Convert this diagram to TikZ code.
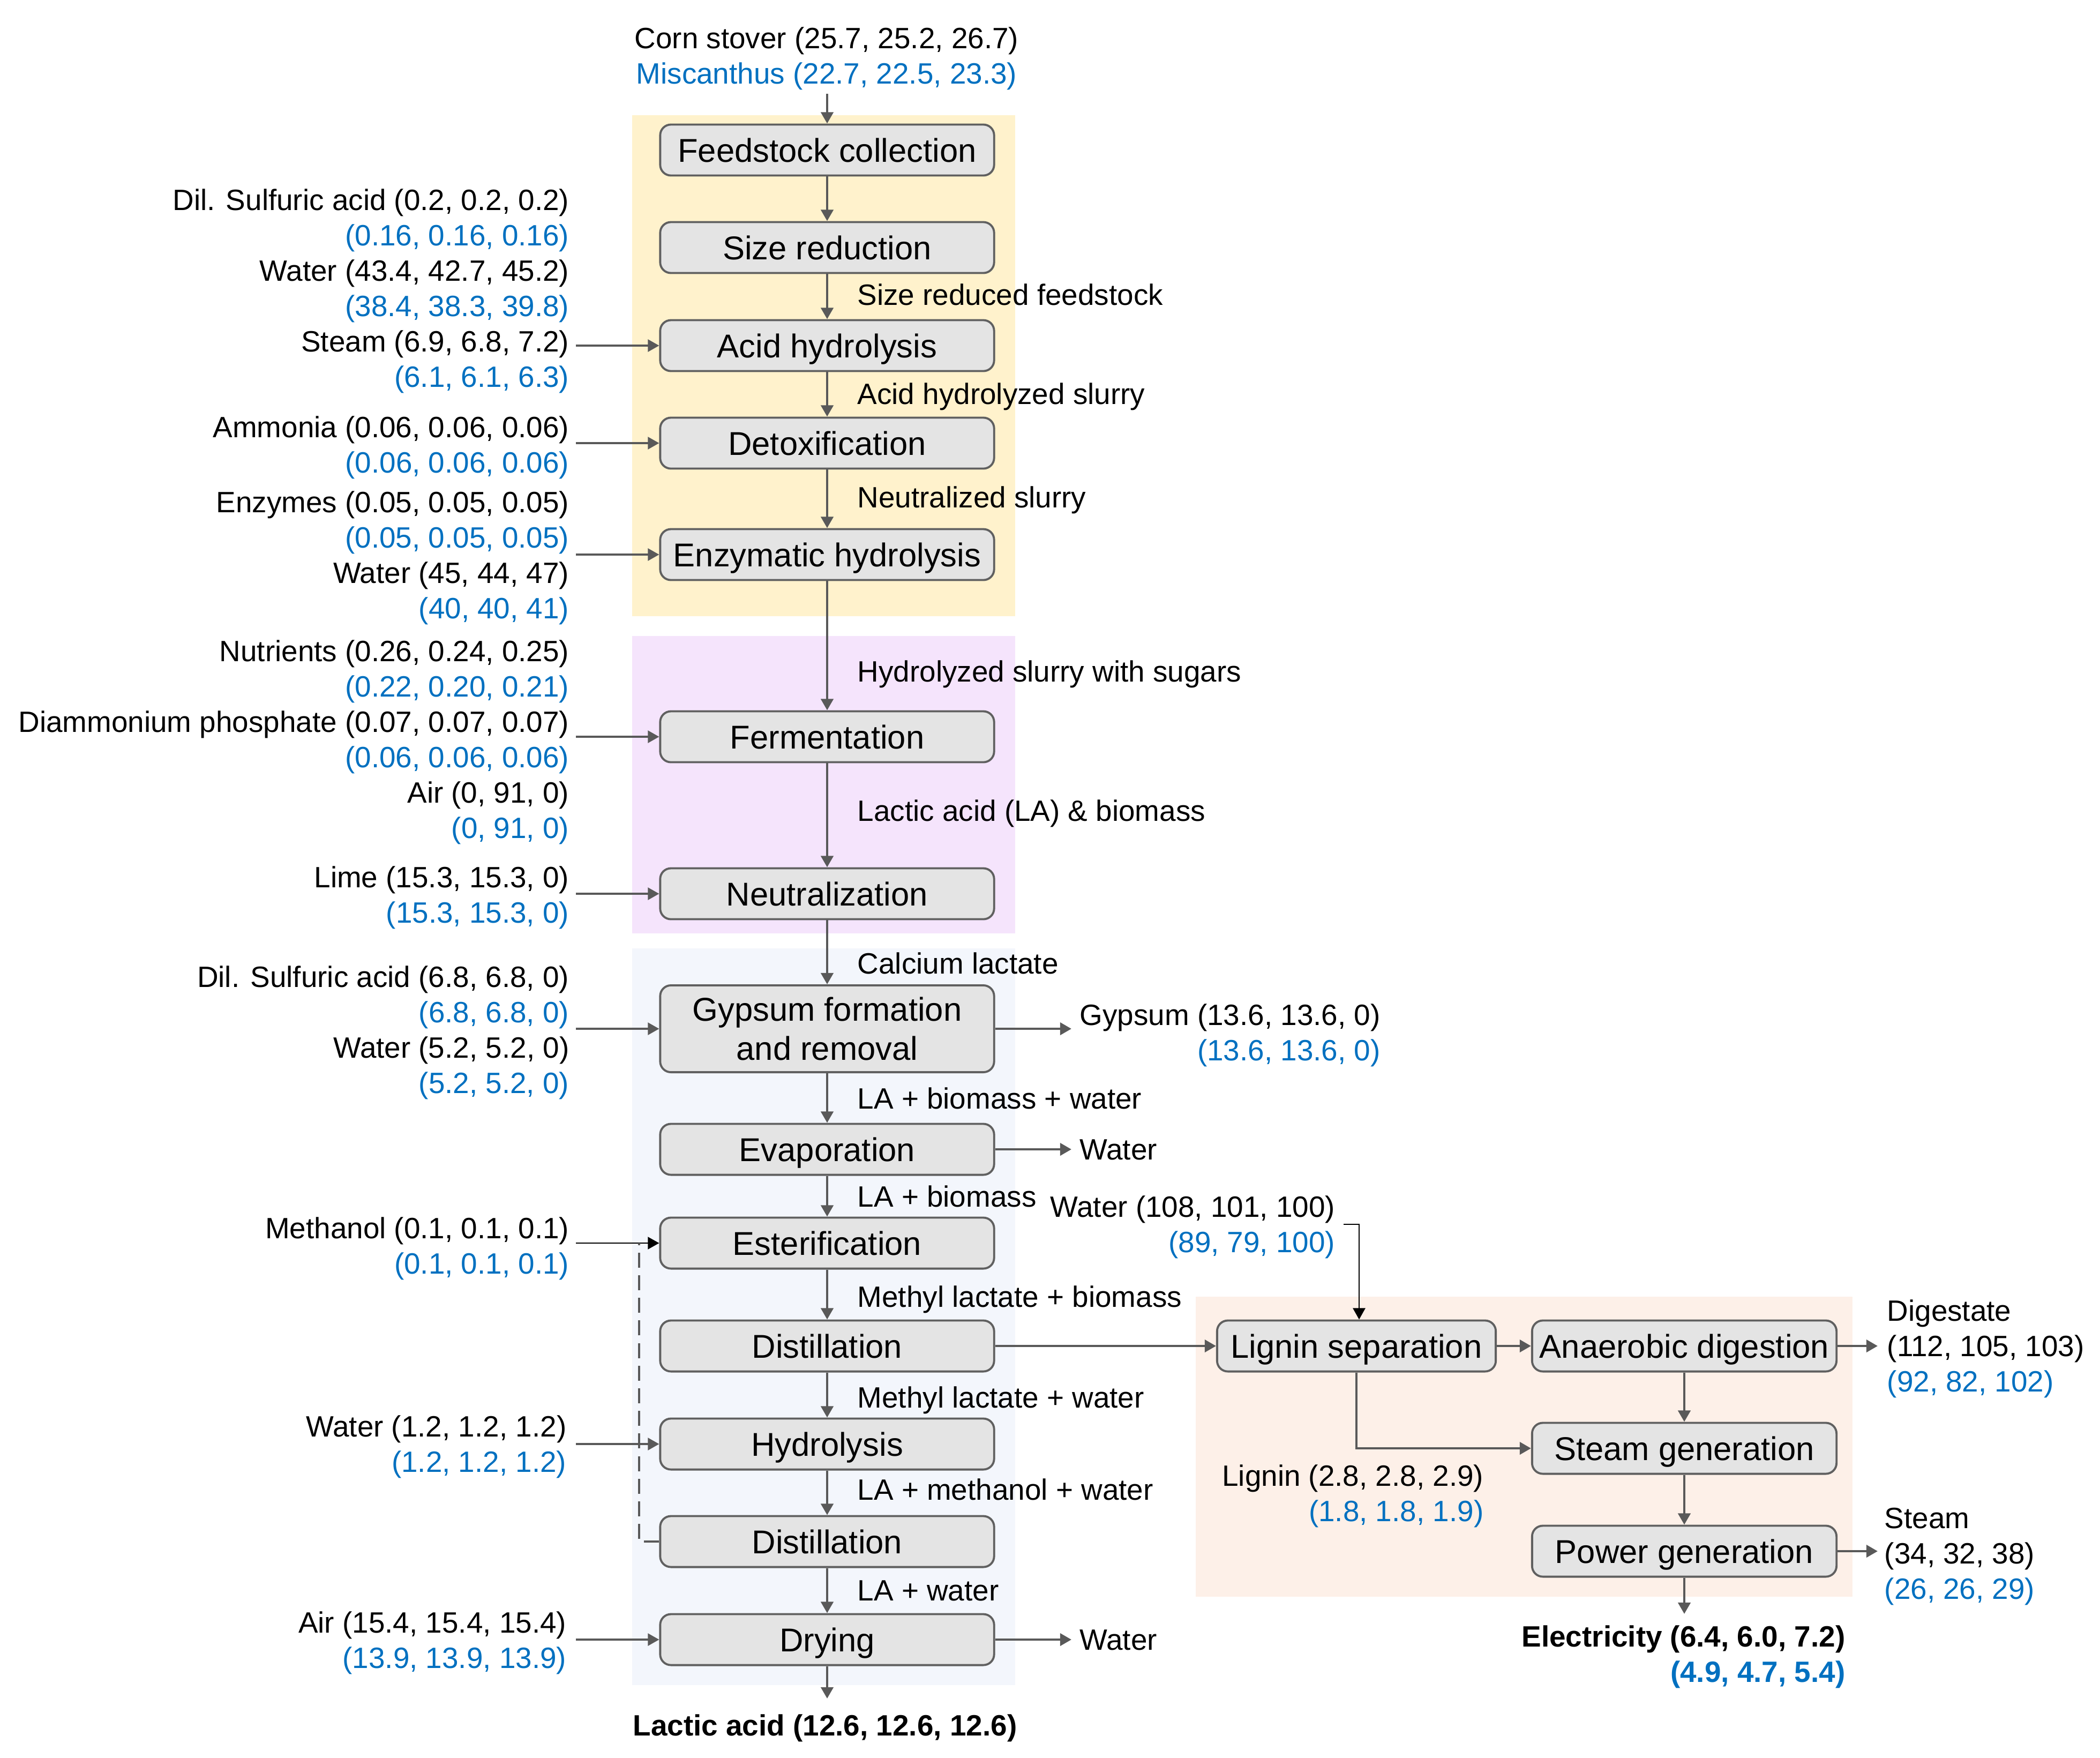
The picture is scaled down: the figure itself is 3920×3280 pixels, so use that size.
\documentclass[tikz,border=0pt]{standalone}
\usepackage{fontspec}
\setmainfont{Liberation Sans}
\usetikzlibrary{arrows.meta}
\definecolor{valblue}{HTML}{0070C0}
\definecolor{boxfill}{HTML}{E4E4E4}
\definecolor{boxline}{HTML}{606060}
\definecolor{arrgray}{HTML}{595959}
\definecolor{bgyellow}{HTML}{FFF2CC}
\definecolor{bgpurple}{HTML}{F5E4FC}
\definecolor{bgblue}{HTML}{F3F6FC}
\definecolor{bgpeach}{HTML}{FDF0E8}
\newcommand{\bl}[1]{\textcolor{valblue}{#1}}
\begin{document}
\begin{tikzpicture}[x=0.01cm,y=-0.01cm,
 procbase/.style={draw=boxline, line width=1.1pt, fill=boxfill, rounded corners=0.2cm,
   minimum width=6.23cm, minimum height=0.95cm, inner sep=0pt,
   font=\fontsize{17.5}{20.5}\selectfont, align=center},
 proc/.style={procbase, text height=12.8pt, text depth=0.3pt},
 rproc/.style={proc, minimum width=5.68cm},
 lab/.style={inner sep=0pt, font=\fontsize{15.6}{18.75}\selectfont, text height=11.4pt, text depth=0.2pt},
 mlab/.style={inner sep=0pt, font=\fontsize{15.6}{18.75}\selectfont, yshift=-0.06cm},
 blab/.style={inner sep=0pt, font=\fontsize{15.6}{18.75}\selectfont\bfseries, text height=11.4pt, text depth=0.2pt},
 mblab/.style={inner sep=0pt, font=\fontsize{15.6}{18.75}\selectfont\bfseries, yshift=-0.06cm},
 flow/.style={draw=arrgray, line width=1.3pt, -{Triangle[length=6pt,width=6.5pt]}},
 inarrow/.style={draw=arrgray, line width=1pt, -{Triangle[length=6pt,width=6.5pt]}},
 thinb/.style={draw=black, line width=0.8pt, -{Triangle[length=6pt,width=6.5pt]}},
]
\useasboundingbox (0,0) rectangle (3920,3280);
% background zones
\fill[bgyellow] (1180,215) rectangle (1895,1150);
\fill[bgpurple] (1180,1187) rectangle (1895,1742);
\fill[bgblue] (1180,1770) rectangle (1895,3145);
\fill[bgpeach] (2232,2420) rectangle (3458,2980);

% main process boxes
\node[proc] (feedc) at (1544,280) {Feedstock collection};
\node[proc] (sizer) at (1544,462) {Size reduction};
\node[proc] (acidh) at (1544,645) {Acid hydrolysis};
\node[proc] (detox) at (1544,827) {Detoxification};
\node[proc] (enzh) at (1544,1035) {Enzymatic hydrolysis};
\node[proc] (ferm) at (1544,1375) {Fermentation};
\node[proc] (neut) at (1544,1668) {Neutralization};
\node[procbase, minimum height=1.62cm] (gyps) at (1544,1920) {Gypsum formation\\and removal};
\node[proc] (evap) at (1544,2145) {Evaporation};
\node[proc] (ester) at (1544,2320) {Esterification};
\node[proc] (dista) at (1544,2512) {Distillation};
\node[proc] (hydro) at (1544,2695) {Hydrolysis};
\node[proc] (distb) at (1544,2877) {Distillation};
\node[proc] (dry) at (1544,3060) {Drying};
% right boxes
\node[proc, minimum width=5.2cm] (lign) at (2532,2512) {Lignin separation};
\node[rproc] (anaer) at (3144,2512) {Anaerobic digestion};
\node[rproc] (steamg) at (3144,2703) {Steam generation};
\node[rproc] (powg) at (3144,2895) {Power generation};

% main chain
\foreach \a/\b in {feedc/sizer, sizer/acidh, acidh/detox, detox/enzh, enzh/ferm, ferm/neut, neut/gyps, gyps/evap, evap/ester, ester/dista, dista/hydro, hydro/distb, distb/dry}
  \draw[flow] (\a.south) -- (\b.north);

% top input
\node[mlab, align=center] (corn) at (1543,103) {Corn stover (25.7, 25.2, 26.7)\\\bl{Miscanthus (22.7, 22.5, 23.3)}};
\coordinate (cornout) at (1544,175);
\draw[flow] (cornout) -- (feedc.north);

% left inputs
\node[mlab, align=right, anchor=east] (inA) at (1063,537) {Dil. Sulfuric acid (0.2, 0.2, 0.2)\\\bl{(0.16, 0.16, 0.16)}\\Water (43.4, 42.7, 45.2)\\\bl{(38.4, 38.3, 39.8)}\\Steam (6.9, 6.8, 7.2)\\\bl{(6.1, 6.1, 6.3)}};
\coordinate (inAp) at (1075,645);
\draw[inarrow] (inAp) -- (acidh.west);

\node[mlab, align=right, anchor=east] (inB) at (1063,829) {Ammonia (0.06, 0.06, 0.06)\\\bl{(0.06, 0.06, 0.06)}};
\coordinate (inBp) at (1075,827);
\draw[inarrow] (inBp) -- (detox.west);

\node[mlab, align=right, anchor=east] (inC) at (1063,1035) {Enzymes (0.05, 0.05, 0.05)\\\bl{(0.05, 0.05, 0.05)}\\Water (45, 44, 47)\\\bl{(40, 40, 41)}};
\coordinate (inCp) at (1075,1035);
\draw[inarrow] (inCp) -- (enzh.west);

\node[mlab, align=right, anchor=east] (inD) at (1063,1379) {Nutrients (0.26, 0.24, 0.25)\\\bl{(0.22, 0.20, 0.21)}\\Diammonium phosphate (0.07, 0.07, 0.07)\\\bl{(0.06, 0.06, 0.06)}\\Air (0, 91, 0)\\\bl{(0, 91, 0)}};
\coordinate (inDp) at (1075,1375);
\draw[inarrow] (inDp) -- (ferm.west);

\node[mlab, align=right, anchor=east] (inE) at (1063,1669) {Lime (15.3, 15.3, 0)\\\bl{(15.3, 15.3, 0)}};
\coordinate (inEp) at (1075,1668);
\draw[inarrow] (inEp) -- (neut.west);

\node[mlab, align=right, anchor=east] (inF) at (1063,1921) {Dil. Sulfuric acid (6.8, 6.8, 0)\\\bl{(6.8, 6.8, 0)}\\Water (5.2, 5.2, 0)\\\bl{(5.2, 5.2, 0)}};
\coordinate (inFp) at (1075,1920);
\draw[inarrow] (inFp) -- (gyps.west);

\node[mlab, align=right, anchor=east] (inG) at (1063,2324) {Methanol (0.1, 0.1, 0.1)\\\bl{(0.1, 0.1, 0.1)}};
\coordinate (inGp) at (1075,2320);
\draw[thinb] (inGp) -- (ester.west);

\node[mlab, align=right, anchor=east] (inH) at (1058,2694) {Water (1.2, 1.2, 1.2)\\\bl{(1.2, 1.2, 1.2)}};
\coordinate (inHp) at (1075,2695);
\draw[inarrow] (inHp) -- (hydro.west);

\node[mlab, align=right, anchor=east] (inI) at (1058,3060) {Air (15.4, 15.4, 15.4)\\\bl{(13.9, 13.9, 13.9)}};
\coordinate (inIp) at (1075,3060);
\draw[inarrow] (inIp) -- (dry.west);

% methanol recycle (dashed)
\coordinate (dashc) at (1193,2877);
\coordinate (dashtop) at (1193,2320);
\draw[arrgray, line width=1.1pt, dash pattern=on 8pt off 4pt] (distb.west) -- (dashc) -- (dashtop);

% stream labels
\node[lab, anchor=west] (s1) at (1600,550) {Size reduced feedstock};
\node[lab, anchor=west] (s2) at (1600,735) {Acid hydrolyzed slurry};
\node[lab, anchor=west] (s3) at (1600,928) {Neutralized slurry};
\node[lab, anchor=west] (s4) at (1600,1253) {Hydrolyzed slurry with sugars};
\node[lab, anchor=west] (s5) at (1600,1513) {Lactic acid (LA) \& biomass};
\node[lab, anchor=west] (s6) at (1600,1798) {Calcium lactate};
\node[lab, anchor=west] (s7) at (1600,2050) {LA + biomass + water};
\node[lab, anchor=west] (s8) at (1600,2233) {LA + biomass};
\node[lab, anchor=west] (s9) at (1600,2420) {Methyl lactate + biomass};
\node[lab, anchor=west] (s10) at (1600,2608) {Methyl lactate + water};
\node[lab, anchor=west] (s11) at (1600,2780) {LA + methanol + water};
\node[lab, anchor=west] (s12) at (1600,2968) {LA + water};

% outputs right of main column
\coordinate (gypend) at (2000,1920);
\draw[flow] (gyps.east) -- (gypend);
\node[mlab, anchor=west, align=right] (gypout) at (2015,1926) {Gypsum (13.6, 13.6, 0)\\\bl{(13.6, 13.6, 0)}};

\coordinate (evapend) at (2000,2145);
\draw[flow] (evap.east) -- (evapend);
\node[lab, anchor=west] (wevap) at (2015,2145) {Water};

\coordinate (drye) at (2000,3060);
\draw[flow] (dry.east) -- (drye);
\node[lab, anchor=west] (wdry) at (2015,3060) {Water};

\coordinate (lacs) at (1544,3170);
\draw[flow] (dry.south) -- (lacs);
\node[blab] (lacl) at (1540,3220) {Lactic acid (12.6, 12.6, 12.6)};

% lignin / energy section
\node[mlab, anchor=east, align=right] (wlig) at (2493,2284) {Water (108, 101, 100)\\\bl{(89, 79, 100)}};
\coordinate (wligs) at (2508,2285);
\coordinate (wligc) at (2537,2285);
\draw[thinb] (wligs) -- (wligc) -- (wligc |- lign.north);

\draw[flow] (dista.east) -- (lign.west);
\draw[flow] (lign.east) -- (anaer.west);
\coordinate (dige) at (3505,2512);
\draw[flow] (anaer.east) -- (dige);
\node[mlab, anchor=west, align=left] (digl) at (3522,2511) {Digestate\\(112, 105, 103)\\\bl{(92, 82, 102)}};
\draw[flow] (anaer.south) -- (steamg.north);
\draw[flow] (lign.south) |- (steamg.west);
\node[mlab, anchor=east, align=right] (lignl) at (2770,2786) {Lignin (2.8, 2.8, 2.9)\\\bl{(1.8, 1.8, 1.9)}};
\draw[flow] (steamg.south) -- (powg.north);
\coordinate (stme) at (3505,2895);
\draw[flow] (powg.east) -- (stme);
\node[mlab, anchor=west, align=left] (stml) at (3517,2899) {Steam\\(34, 32, 38)\\\bl{(26, 26, 29)}};
\coordinate (elec) at (3144,3012);
\draw[flow] (powg.south) -- (elec);
\node[mblab, anchor=east, align=right] (elecl) at (3445,3086) {Electricity (6.4, 6.0, 7.2)\\\bl{(4.9, 4.7, 5.4)}};
\end{tikzpicture}
\end{document}
